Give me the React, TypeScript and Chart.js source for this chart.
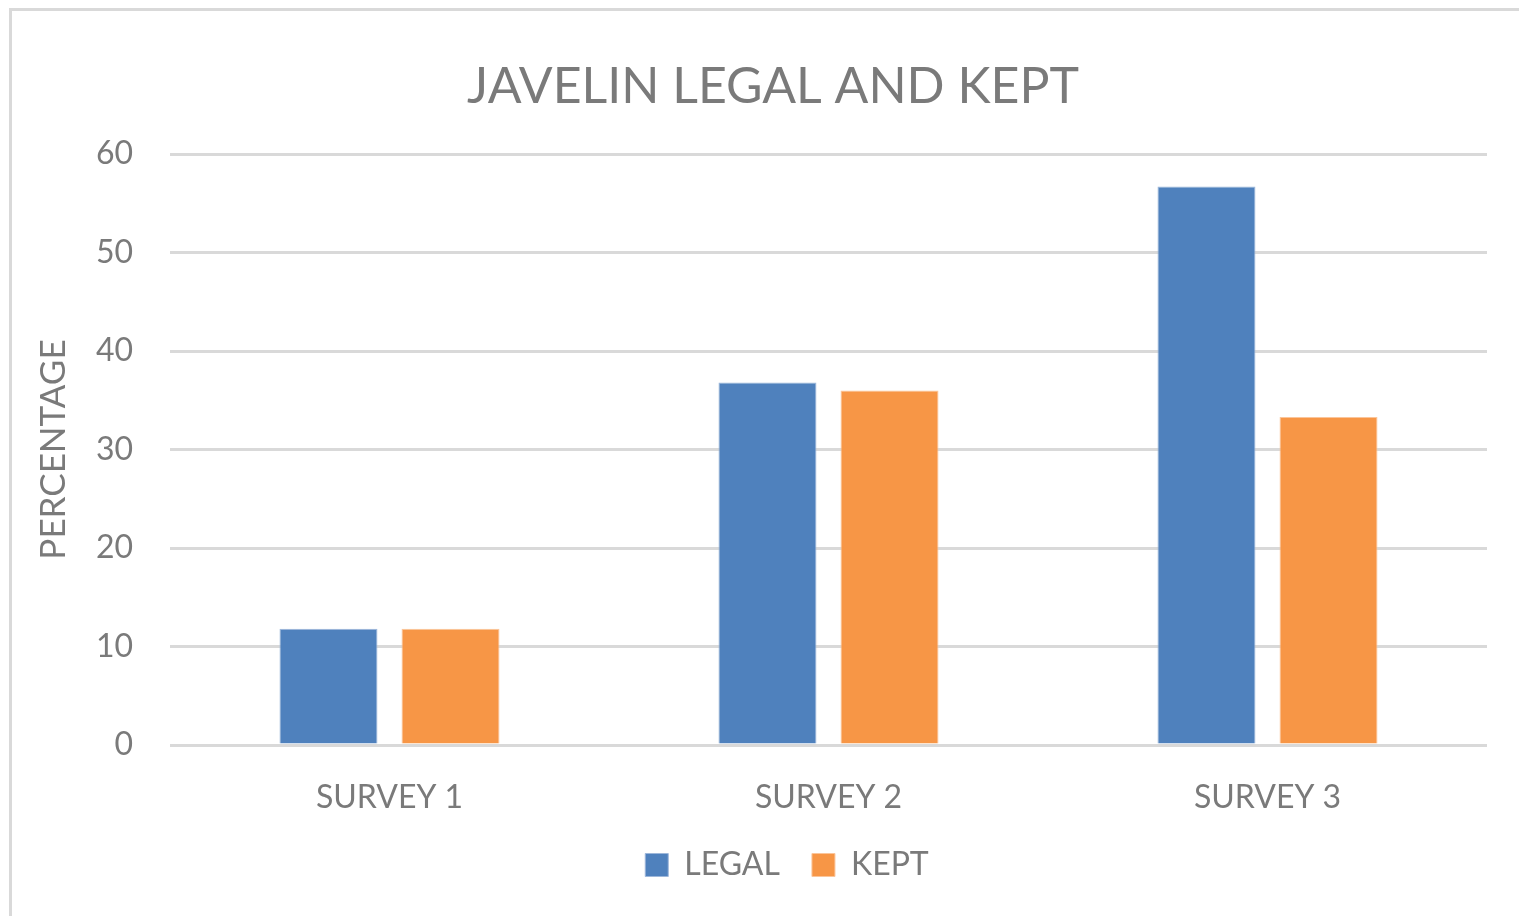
import React, { useEffect, useRef } from "react";
import { Chart, registerables } from "chart.js";

Chart.register(...registerables);

const categories = ["SURVEY 1", "SURVEY 2", "SURVEY 3"];
const legalValues = [11.8, 36.8, 56.7];
const keptValues = [11.8, 36.0, 33.3];
const seriesNames = ["LEGAL", "KEPT"];
const chartTitle = "JAVELIN LEGAL AND KEPT";
const yAxisTitle = "PERCENTAGE";

const FONT = "Lato, 'Open Sans', sans-serif";
const TEXT = "#7a7a7a";
const GRID = "#d9d9d9";

const legendShift = {
  id: "legendShift",
  beforeDraw(chart: any) {
    const lg = chart.legend;
    if (lg) {
      lg.left = 14;
      lg.right = chart.width + 14;
    }
  },
};

export default function App() {
  const ref = useRef<HTMLCanvasElement | null>(null);

  useEffect(() => {
    if (!ref.current) return;
    const chart = new Chart(ref.current, {
      type: "bar",
      data: {
        labels: categories,
        datasets: [
          {
            label: seriesNames[0],
            data: legalValues,
            backgroundColor: "#4f81bd",
            borderColor: "#9db7da",
            borderWidth: 1,
            categoryPercentage: 0.556,
            barPercentage: 0.803,
          },
          {
            label: seriesNames[1],
            data: keptValues,
            backgroundColor: "#f79646",
            borderColor: "#fbc59a",
            borderWidth: 1,
            categoryPercentage: 0.556,
            barPercentage: 0.803,
          },
        ],
      },
      options: {
        animation: false,
        responsive: false,
        maintainAspectRatio: false,
        layout: { padding: { left: 0, right: 0, top: 0, bottom: 25 } },
        plugins: {
          title: {
            display: true,
            text: chartTitle,
            color: TEXT,
            font: { family: FONT, size: 50, weight: "normal" },
            padding: { top: 46, bottom: 37 },
          },
          legend: {
            display: true,
            position: "bottom",
            labels: {
              color: TEXT,
              font: { family: FONT, size: 32 },
              boxWidth: 23,
              boxHeight: 23,
              padding: 32,
            },
          },
          tooltip: { enabled: false },
        },
        scales: {
          x: {
            grid: { display: false, drawTicks: false },
            border: { display: false },
            ticks: {
              color: TEXT,
              font: { family: FONT, size: 32 },
              padding: 33,
            },
            afterFit: (scale: any) => {
              scale.height = 72;
            },
          },
          y: {
            min: 0,
            max: 60,
            ticks: {
              stepSize: 10,
              color: TEXT,
              font: { family: FONT, size: 32 },
              padding: 37,
            },
            grid: { color: GRID, lineWidth: 3, drawTicks: false },
            border: { display: false },
            title: {
              display: true,
              text: yAxisTitle,
              color: TEXT,
              font: { family: FONT, size: 35 },
              padding: { top: 21, bottom: 0 },
            },
            afterFit: (scale: any) => {
              scale.width = 158;
            },
          },
          yRight: {
            position: "right",
            display: true,
            grid: { display: false, drawTicks: false },
            border: { display: false },
            ticks: { display: false },
            afterFit: (scale: any) => {
              scale.width = 47;
            },
          },
        },
      },
      plugins: [legendShift],
    });
    return () => chart.destroy();
  }, []);

  return (
    <div
      style={{
        position: "fixed",
        left: 9,
        top: 8,
        width: 1525,
        height: 908,
        borderLeft: "3px solid #d9d9d9",
        borderTop: "3px solid #d9d9d9",
        background: "#ffffff",
        overflow: "hidden",
      }}
    >
      <canvas ref={ref} width={1522} height={905} style={{ display: "block" }} />
    </div>
  );
}
